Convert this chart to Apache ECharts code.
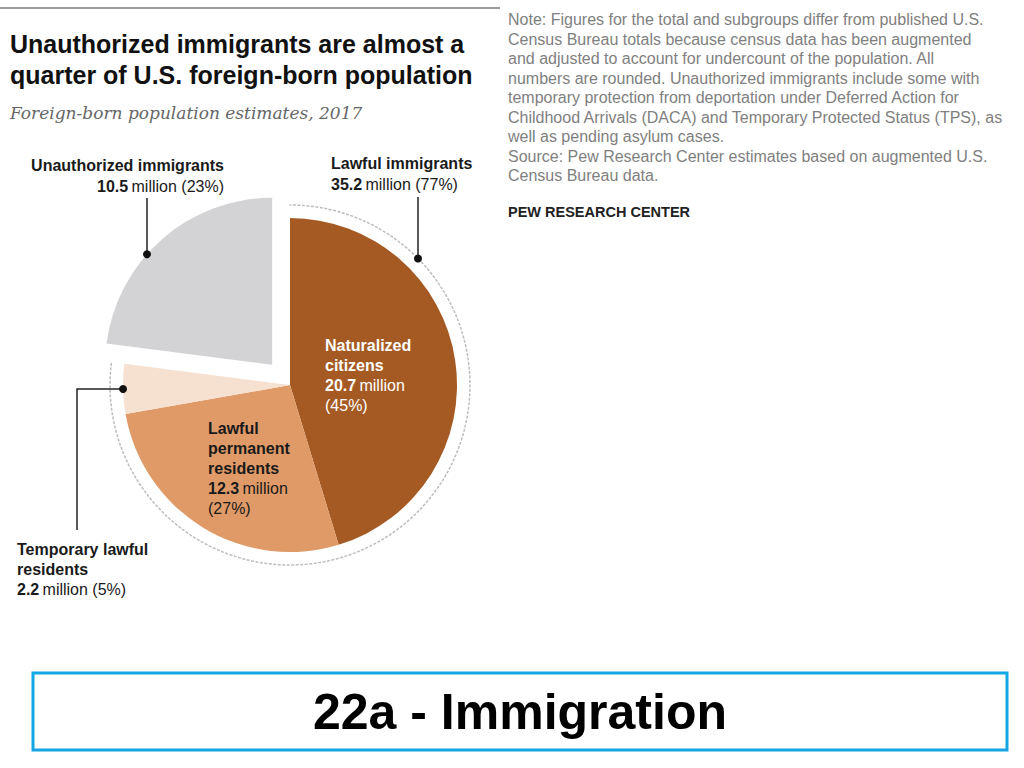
<!DOCTYPE html>
<html>
<head>
<meta charset="utf-8">
<script src="https://cdn.jsdelivr.net/npm/echarts@6/dist/echarts.min.js"></script>
<style>
html,body{margin:0;padding:0;background:#fff;}
#chart{width:1024px;height:768px;}
</style>
</head>
<body>
<div id="chart"></div>
<script>
// ---- data ----
const categories = ['Naturalized citizens', 'Lawful permanent residents', 'Temporary lawful residents', 'Unauthorized immigrants'];
const labelNames = [['Naturalized', 'citizens'], ['Lawful', 'permanent', 'residents'], ['Temporary lawful', 'residents'], ['Unauthorized immigrants']];
const valuesMillions = [20.7, 12.3, 2.2, 10.5];
const sliceColors = ['#a55a24', '#df9a68', '#f6e0d0', '#d3d3d5'];
const groupNames = ['Lawful immigrants', 'Unauthorized immigrants'];
const groupMembers = [[0, 1, 2], [3]];
const titleLines = ['Unauthorized immigrants are almost a', 'quarter of U.S. foreign-born population'];
const subtitleText = 'Foreign-born population estimates, 2017';
const noteLines = [
  'Note: Figures for the total and subgroups differ from published U.S.',
  'Census Bureau totals because census data has been augmented',
  'and adjusted to account for undercount of the population. All',
  'numbers are rounded. Unauthorized immigrants include some with',
  'temporary protection from deportation under Deferred Action for',
  'Childhood Arrivals (DACA) and Temporary Protected Status (TPS), as',
  'well as pending asylum cases.',
  'Source: Pew Research Center estimates based on augmented U.S.',
  'Census Bureau data.'
];
const creditText = 'PEW RESEARCH CENTER';
const slideTitle = '22a - Immigration';

// ---- layout ----
const CX = 290, CY = 385, R = 167, RING = 180, OFFSET = 27;
const total = valuesMillions.reduce((a, b) => a + b, 0);
const groupValues = groupMembers.map(g => +g.reduce((s, i) => s + valuesMillions[i], 0).toFixed(1));
const pct = v => Math.round(v / total * 100);

function midAngle(i) {
  let before = 0;
  for (let k = 0; k < i; k++) before += valuesMillions[k];
  return (before + valuesMillions[i] / 2) / total * 360;
}
const rad = d => d * Math.PI / 180;

// label block positions (top-left, or top-right when align right)
const sliceLabelPos = [
  { x: 325, y: 335, align: 'left' },
  { x: 208, y: 418, align: 'left' },
  { x: 17, y: 539, align: 'left' },
  null
];
const groupLabelPos = [
  { x: 331, y: 153, align: 'left' },
  { x: 224, y: 155, align: 'right' }
];

function sliceLabel(i) {
  const names = labelNames[i];
  const v = valuesMillions[i];
  if (i <= 1) {
    return names.map(n => '{b|' + n + '}').join('\n') + '\n{b|' + v.toFixed(1) + '} {n|million}\n{n|(' + pct(v) + '%)}';
  }
  return names.map(n => '{b|' + n + '}').join('\n') + '\n{b|' + v.toFixed(1) + '} {n|million (' + pct(v) + '%)}';
}

function richFor(color, align, lh) {
  return {
    b: { fontFamily: 'Liberation Sans', fontWeight: 'bold', fontSize: 16, lineHeight: lh || 20, color: color, align: align },
    n: { fontFamily: 'Liberation Sans', fontWeight: 'normal', fontSize: 16, lineHeight: lh || 20, color: color, align: align }
  };
}

const pieData = valuesMillions.map((v, i) => {
  const item = {
    name: categories[i],
    value: v,
    itemStyle: { color: sliceColors[i] },
    label: sliceLabelPos[i] ? {
      show: true,
      formatter: sliceLabel(i),
      rich: richFor(i === 0 ? '#ffffff' : '#1a1a1a', sliceLabelPos[i].align)
    } : { show: false }
  };
  if (i === 3) {
    item.selected = true;
    item.select = { itemStyle: { color: sliceColors[i] }, label: { show: false } };
  }
  return item;
});

// leader lines computed from data geometry
const gUn = midAngle(3);
const apexX = CX + OFFSET * Math.sin(rad(gUn)), apexY = CY - OFFSET * Math.cos(rad(gUn));
const unX = 147;
const unY = apexY - Math.sqrt(R * R - (unX - apexX) * (unX - apexX));
const lawX = 418;
const lawY = CY - Math.sqrt(RING * RING - (lawX - CX) * (lawX - CX));
const tA = midAngle(2);
const tX = CX + R * Math.sin(rad(tA)), tY = CY - R * Math.cos(rad(tA));

const lineStyle = { stroke: '#222', lineWidth: 1.5, fill: null };
const dotStyle = { fill: '#111' };

const chart = echarts.init(document.getElementById('chart'), null, { renderer: 'svg' });
chart.setOption({
  animation: false,
  backgroundColor: '#ffffff',
  title: {
    text: titleLines.join('\n'),
    subtext: subtitleText,
    left: 10,
    top: 28,
    padding: 0,
    itemGap: 13,
    textStyle: { fontFamily: 'Liberation Sans', fontWeight: 'bold', fontSize: 25, lineHeight: 31, color: '#111' },
    subtextStyle: { fontFamily: 'DejaVu Serif', fontStyle: 'italic', fontSize: 17, lineHeight: 20, color: '#666' }
  },
  series: [
    {
      type: 'pie',
      name: 'Groups',
      silent: true,
      center: [CX, CY],
      radius: [RING, RING],
      startAngle: 90,
      z: 1,
      avoidLabelOverlap: false,
      labelLine: { show: false },
      data: groupValues.map((v, i) => ({
        name: groupNames[i],
        value: v,
        itemStyle: i === 0
          ? { color: 'rgba(0,0,0,0)', borderColor: '#bdbdbd', borderWidth: 1.5, borderType: [1.5, 3] }
          : { color: 'rgba(0,0,0,0)', borderWidth: 0 },
        label: {
          show: true,
          position: 'outside',
          formatter: '{b|' + groupNames[i] + '}\n{b|' + v.toFixed(1) + '} {n|million (' + pct(v) + '%)}',
          rich: richFor('#1a1a1a', groupLabelPos[i].align, 21)
        }
      })),
      labelLayout: function (p) {
        const lp = groupLabelPos[p.dataIndex];
        return { x: lp.x, y: lp.y, align: lp.align, verticalAlign: 'top' };
      }
    },
    {
      type: 'pie',
      name: 'Foreign-born population',
      silent: true,
      center: [CX, CY],
      radius: [0, R],
      startAngle: 90,
      z: 2,
      selectedMode: 'single',
      selectedOffset: OFFSET,
      avoidLabelOverlap: false,
      label: { show: true, position: 'inside' },
      labelLine: { show: false },
      data: pieData,
      labelLayout: function (p) {
        const lp = sliceLabelPos[p.dataIndex];
        if (!lp) return {};
        return { x: lp.x, y: lp.y, align: lp.align, verticalAlign: 'top' };
      }
    }
  ],
  graphic: [
    { type: 'line', shape: { x1: 0, y1: 8, x2: 500, y2: 8 }, style: { stroke: '#9a9a9a', lineWidth: 2 } },
    {
      type: 'text', left: 508, top: 10,
      style: { text: noteLines.join('\n'), fontFamily: 'Liberation Sans', fontSize: 16, lineHeight: 19.5, fill: '#808080' }
    },
    {
      type: 'text', left: 508, top: 204,
      style: { text: creditText, fontFamily: 'Liberation Sans', fontWeight: 'bold', fontSize: 14.5, fill: '#222' }
    },
    { type: 'polyline', z: 10, shape: { points: [[unX, 198], [unX, unY]] }, style: lineStyle },
    { type: 'circle', z: 10, shape: { cx: unX, cy: unY, r: 4 }, style: dotStyle },
    { type: 'polyline', z: 10, shape: { points: [[lawX, 197], [lawX, lawY]] }, style: lineStyle },
    { type: 'circle', z: 10, shape: { cx: lawX, cy: lawY, r: 4 }, style: dotStyle },
    { type: 'polyline', z: 10, shape: { points: [[tX, tY], [77, tY], [77, 530]] }, style: lineStyle },
    { type: 'circle', z: 10, shape: { cx: tX, cy: tY, r: 4 }, style: dotStyle },
    {
      type: 'rect', z: 5, shape: { x: 33, y: 673, width: 974, height: 77 },
      style: { fill: '#ffffff', stroke: '#16a6e3', lineWidth: 3 }
    },
    {
      type: 'text', z: 6, x: 520, y: 712,
      style: { text: slideTitle, fontFamily: 'Liberation Sans', fontWeight: 'bold', fontSize: 50, fill: '#000', align: 'center', verticalAlign: 'middle' }
    }
  ]
});
</script>
</body>
</html>
